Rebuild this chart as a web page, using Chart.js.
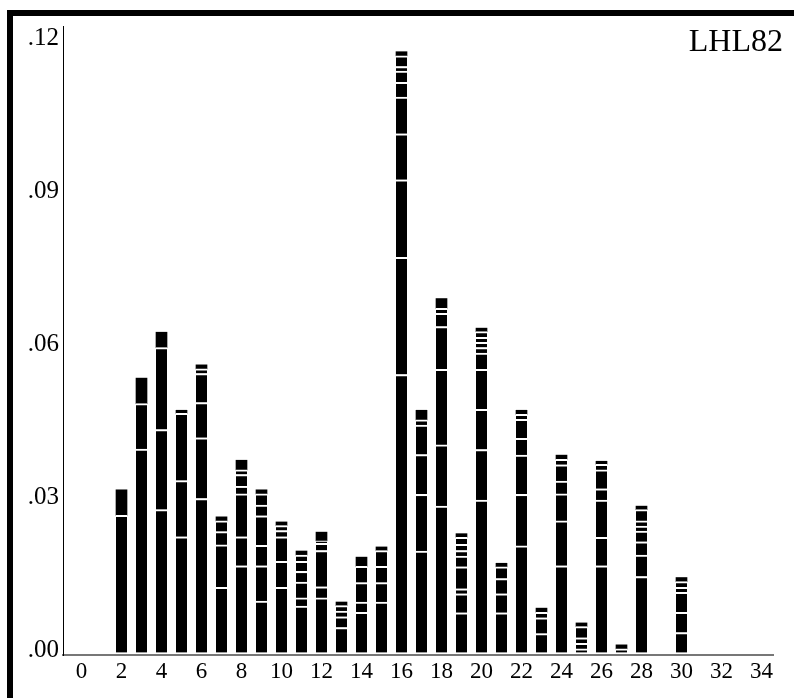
<!DOCTYPE html>
<html>
<head>
<meta charset="utf-8">
<script src="https://cdn.jsdelivr.net/npm/chart.js@4.4.1/dist/chart.umd.min.js"></script>
<style>
  html, body { margin: 0; padding: 0; background: #fff; }
  #wrap { position: relative; width: 794px; height: 698px; overflow: hidden; }
  #frame {
    position: absolute; left: 7px; top: 10px; right: 0; bottom: 0;
    border-left: 6px solid #000; border-top: 6px solid #000;
    pointer-events: none;
  }
</style>
</head>
<body>
<div id="wrap">
  <canvas id="chart" width="794" height="698"></canvas>
  <div id="frame"></div>
</div>
<script>
// --- Data: bin positions and, per bin, the cumulative heights where each block ends (bottom to top) ---
const chartTitle = 'LHL82';
const xTicks = [0, 2, 4, 6, 8, 10, 12, 14, 16, 18, 20, 22, 24, 26, 28, 30, 32, 34];
const yTicks = [0, 0.03, 0.06, 0.09, 0.12];

const xBins = [2, 3, 4, 5, 6, 7, 8, 9, 10, 11, 12, 13, 14, 15, 16, 17, 18, 19, 20, 21, 22, 23, 24, 25, 26, 27, 28, 30];

const b2  = [0.0269, 0.0319];
const b3  = [0.0399, 0.0488, 0.0538];
const b4  = [0.0280, 0.0437, 0.0598, 0.0628];
const b5  = [0.0227, 0.0337, 0.0469, 0.0475];
const b6  = [0.0302, 0.0421, 0.0490, 0.0547, 0.0556, 0.0564];
const b7  = [0.0128, 0.0211, 0.0237, 0.0258, 0.0266];
const b8  = [0.0170, 0.0227, 0.0311, 0.0326, 0.0349, 0.0358, 0.0377];
const b9  = [0.0101, 0.0170, 0.0210, 0.0268, 0.0289, 0.0311, 0.0319];
const b10 = [0.0128, 0.0179, 0.0227, 0.0239, 0.0249, 0.0256];
const b11 = [0.0091, 0.0107, 0.0138, 0.0159, 0.0179, 0.0191, 0.0199];
const b12 = [0.0107, 0.0129, 0.0200, 0.0214, 0.0219, 0.0236];
const b13 = [0.0049, 0.0070, 0.0081, 0.0092, 0.0099];
const b14 = [0.0079, 0.0099, 0.0137, 0.0169, 0.0187];
const b15 = [0.0099, 0.0137, 0.0169, 0.0200, 0.0207];
const b16 = [0.0545, 0.0775, 0.0927, 0.1017, 0.1089, 0.1118, 0.1140, 0.1149, 0.1170, 0.1178];
const b17 = [0.0199, 0.0310, 0.0388, 0.0446, 0.0456, 0.0475];
const b18 = [0.0287, 0.0407, 0.0555, 0.0639, 0.0665, 0.0675, 0.0694];
const b19 = [0.0078, 0.0115, 0.0125, 0.0168, 0.0189, 0.0200, 0.0212, 0.0226, 0.0233];
const b20 = [0.0299, 0.0398, 0.0477, 0.0555, 0.0587, 0.0598, 0.0608, 0.0618, 0.0629, 0.0636];
const b21 = [0.0078, 0.0115, 0.0145, 0.0168, 0.0175];
const b22 = [0.0209, 0.0310, 0.0387, 0.0420, 0.0457, 0.0467, 0.0475];
const b23 = [0.0037, 0.0068, 0.0079, 0.0087];
const b24 = [0.0170, 0.0258, 0.0311, 0.0336, 0.0368, 0.0379, 0.0387];
const b25 = [0.0007, 0.0018, 0.0029, 0.0051, 0.0058];
const b26 = [0.0170, 0.0226, 0.0299, 0.0321, 0.0358, 0.0369, 0.0375];
const b27 = [0.0007, 0.0015];
const b28 = [0.0149, 0.0191, 0.0217, 0.0238, 0.0248, 0.0258, 0.0280, 0.0287];
const b30 = [0.0039, 0.0079, 0.0118, 0.0128, 0.0139, 0.0147];

const bars = [b2, b3, b4, b5, b6, b7, b8, b9, b10, b11, b12, b13, b14, b15, b16,
              b17, b18, b19, b20, b21, b22, b23, b24, b25, b26, b27, b28, b30];

const serif = '"Liberation Serif", "Times New Roman", serif';

// --- Build one stacked dataset per block level ---
const levels = Math.max(...bars.map(b => b.length));
const datasets = [];
for (let k = 0; k < levels; k++) {
    const points = [];
    bars.forEach((b, i) => {
        if (k < b.length) {
            points.push({
                x: xBins[i],
                y: b[k] - (k > 0 ? b[k - 1] : 0),
                top: k === b.length - 1
            });
        }
    });
    datasets.push({
        data: points,
        stack: 'all',
        backgroundColor: '#000',
        borderColor: '#fff',
        borderSkipped: false,
        borderWidth: ctx => (ctx.raw && ctx.raw.top) ? 0 : { top: 2, right: 0, bottom: 0, left: 0 },
        barThickness: 11
    });
}

// title drawn inside the plot, top right
const titlePlugin = {
    id: 'cornerTitle',
    afterDraw(chart) {
        const ctx = chart.ctx;
        ctx.save();
        ctx.fillStyle = '#000';
        ctx.font = '32px ' + serif;
        ctx.textAlign = 'right';
        ctx.textBaseline = 'alphabetic';
        ctx.fillText(chartTitle, 783, 51);
        ctx.restore();
    }
};

new Chart(document.getElementById('chart'), {
    type: 'bar',
    data: { datasets: datasets },
    plugins: [titlePlugin],
    options: {
        responsive: false,
        animation: false,
        events: [],
        layout: { padding: { left: 0, top: 26, right: 21, bottom: 0 } },
        plugins: {
            legend: { display: false },
            tooltip: { enabled: false },
            title: { display: false }
        },
        scales: {
            x: {
                type: 'linear',
                stacked: true,
                offset: false,
                min: -0.925,
                max: 34.575,
                grid: { display: false, drawTicks: false, offset: false },
                border: { display: true, color: '#777', width: 2 },
                afterBuildTicks: scale => { scale.ticks = xTicks.map(v => ({ value: v })); },
                afterFit: scale => { scale.height = 43; },
                ticks: {
                    color: '#000',
                    font: { family: serif, size: 23 },
                    padding: 3,
                    maxRotation: 0,
                    autoSkip: false,
                    callback: v => String(v)
                }
            },
            y: {
                stacked: true,
                min: -0.00049,
                max: 0.12284,
                grid: { display: false, drawTicks: false },
                border: { display: true, color: '#000', width: 1 },
                afterBuildTicks: scale => { scale.ticks = yTicks.map(v => ({ value: v })); },
                afterFit: scale => { scale.width = 63; },
                ticks: {
                    color: '#000',
                    font: { family: serif, size: 25 },
                    padding: 4,
                    labelOffset: -2,
                    callback: v => v.toFixed(2).replace(/^0/, '')
                }
            }
        }
    }
});
</script>
</body>
</html>
